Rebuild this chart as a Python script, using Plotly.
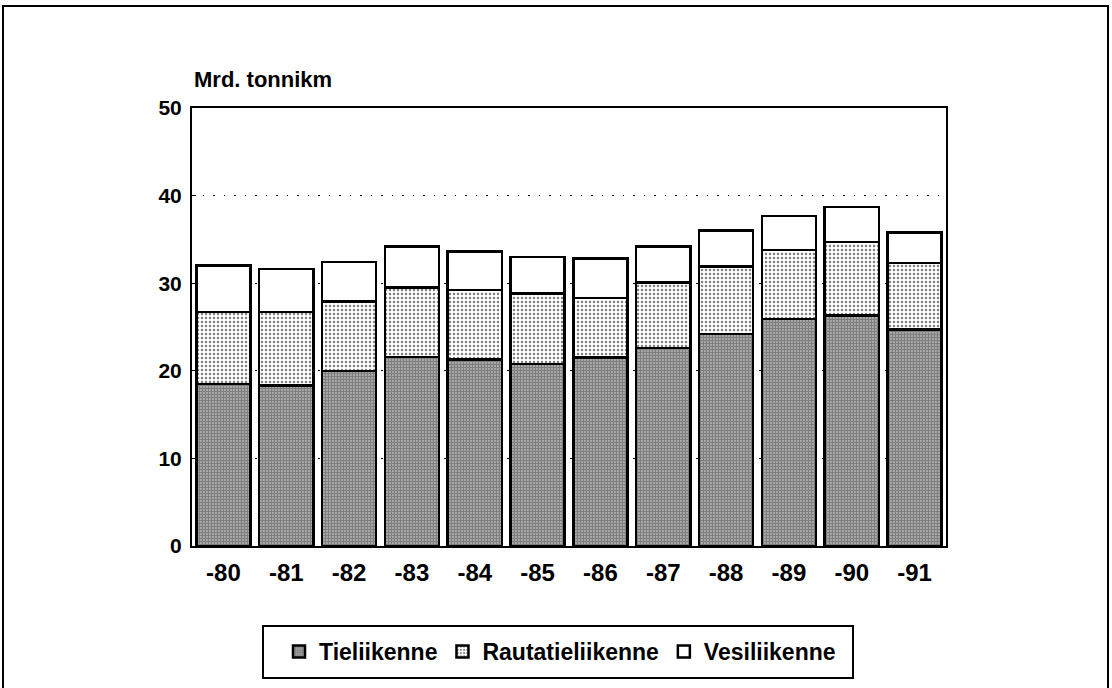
import plotly.graph_objects as go

years = ["-80", "-81", "-82", "-83", "-84", "-85", "-86", "-87", "-88", "-89", "-90", "-91"]
tie_total = [18.5, 18.3, 20.0, 21.6, 21.3, 20.8, 21.5, 22.6, 24.2, 25.9, 26.3, 24.7]
rauta_top = [26.7, 26.7, 27.9, 29.5, 29.2, 28.8, 28.3, 30.1, 31.9, 33.8, 34.7, 32.3]
vesi_top = [32.0, 31.6, 32.4, 34.2, 33.6, 33.0, 32.8, 34.2, 36.0, 37.7, 38.7, 35.8]

tie = tie_total
rauta = [round(r - t, 2) for r, t in zip(rauta_top, tie_total)]
vesi = [round(v - r, 2) for v, r in zip(vesi_top, rauta_top)]

FONT = "Liberation Sans, Arial, Helvetica, sans-serif"

fig = go.Figure()
fig.add_trace(go.Bar(
    x=years, y=tie, name="Tieliikenne",
    marker=dict(color="white", line=dict(color="black", width=2.5),
                pattern=dict(shape=".", fgcolor="black", bgcolor="white", size=3, solidity=0.8)),
))
fig.add_trace(go.Bar(
    x=years, y=rauta, name="Rautatieliikenne",
    marker=dict(color="white", line=dict(color="black", width=2.5),
                pattern=dict(shape=".", fgcolor="black", bgcolor="white", size=4, solidity=0.3)),
))
fig.add_trace(go.Bar(
    x=years, y=vesi, name="Vesiliikenne",
    marker=dict(color="white", line=dict(color="black", width=2.5)),
))

W, H = 1112, 688
L, R, T, B = 192, 946, 108, 546
pw, ph = R - L, B - T

def px(x):
    return (x - L) / pw

def py(y):
    return (B - y) / ph

fig.update_layout(
    width=W, height=H,
    margin=dict(l=L, r=W - R, t=T, b=H - B),
    paper_bgcolor="white", plot_bgcolor="white",
    barmode="stack", bargap=0.14,
    font=dict(family=FONT, color="black", size=20),
    showlegend=True,
    legend=dict(
        orientation="h", traceorder="normal",
        x=px(560), y=py(630), xanchor="center", yanchor="top",
        borderwidth=0, bgcolor="rgba(0,0,0,0)",
        font=dict(family=FONT, size=23, color="black", weight="bold"),
        itemwidth=30,
    ),
    xaxis=dict(
        showline=True, linecolor="black", linewidth=2, mirror=True,
        ticks="", showgrid=False,
        tickfont=dict(family=FONT, size=24, weight="bold"),
        ticklabelstandoff=4,
    ),
    yaxis=dict(
        range=[0, 50], dtick=10, tick0=0,
        showline=True, linecolor="black", linewidth=2, mirror=True,
        ticks="inside", ticklen=4, tickcolor="black",
        showgrid=True, gridcolor="black", gridwidth=1.3, griddash="1.5px,9px",
        zeroline=False,
        tickfont=dict(family=FONT, size=21, weight="bold"),
        ticklabelstandoff=4,
    ),
    annotations=[dict(
        text="Mrd. tonnikm", xref="paper", yref="paper",
        x=px(192), y=py(79), xanchor="left", yanchor="middle",
        showarrow=False,
        font=dict(family=FONT, size=22, color="black", weight="bold"),
    )],
    shapes=[
        dict(type="rect", xref="paper", yref="paper",
             x0=px(3), x1=px(1108), y0=py(694), y1=py(6),
             line=dict(color="black", width=2), fillcolor="rgba(0,0,0,0)", layer="below"),
        dict(type="rect", xref="paper", yref="paper",
             x0=px(263), x1=px(853), y0=py(678), y1=py(626),
             line=dict(color="black", width=2), fillcolor="rgba(0,0,0,0)", layer="below"),
    ],
)

fig.write_html("out.html", config={"displayModeBar": False},
               post_script="document.body.style.margin='0';document.body.style.padding='0';")
